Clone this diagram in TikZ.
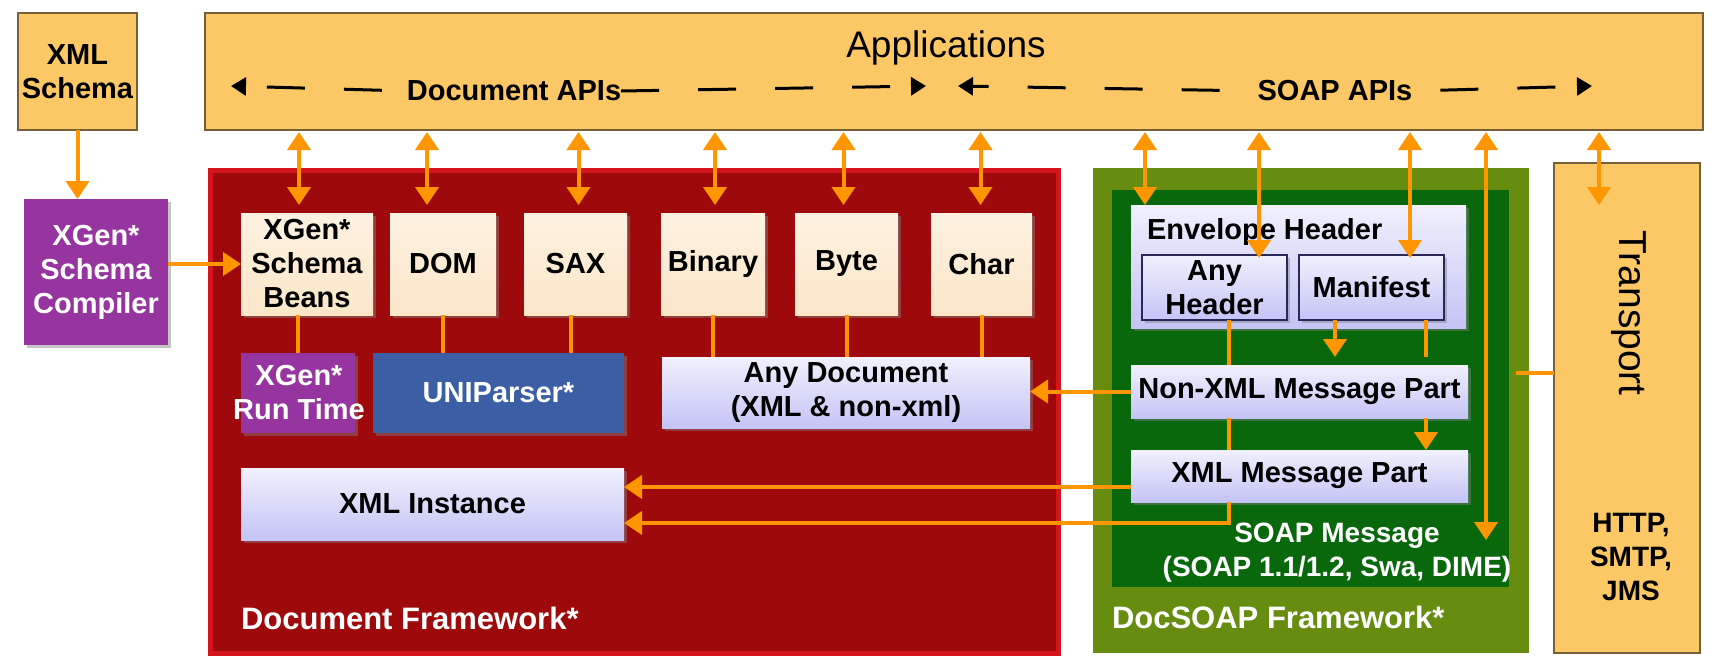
\documentclass[tikz,border=0pt]{standalone}
\usepackage{fontspec}
\setmainfont{Liberation Sans}
\usepackage{tikz}
\usetikzlibrary{arrows.meta}
\usetikzlibrary{shadows}
\definecolor{appfill}{RGB}{252,200,102}
\definecolor{appedge}{RGB}{118,96,56}
\definecolor{docred}{RGB}{158,10,12}
\definecolor{docedge}{RGB}{212,22,28}
\definecolor{soapolive}{RGB}{102,140,16}
\definecolor{soapgreen}{RGB}{10,104,12}
\definecolor{xgenpurple}{RGB}{150,52,160}
\definecolor{parserblue}{RGB}{60,94,164}
\definecolor{beancream}{RGB}{251,230,200}
\definecolor{partlilac}{RGB}{196,196,246}
\definecolor{partedge}{RGB}{40,40,90}
\definecolor{flow}{RGB}{255,150,0}
\newcommand{\boxfont}{\fontsize{29}{34}\selectfont\bfseries}
\newcommand{\framefont}{\fontsize{31}{36}\selectfont\bfseries}
\tikzset{flowtip/.tip={Triangle[width=23pt, length=18pt]},
         apitip/.tip={Triangle[width=18pt, length=15pt]}}
\tikzstyle{block}=[inner sep=0, outer sep=0, align=center]
\tikzstyle{appbox}=[block, fill=appfill, draw=appedge, line width=1.5pt]
\tikzstyle{shadowed}=[drop shadow={shadow xshift=3pt, shadow yshift=-3pt, opacity=0.45}]
\tikzstyle{creambox}=[block, shadowed, top color=beancream!55, bottom color=beancream, font=\boxfont]
\tikzstyle{lilacbox}=[block, shadowed, top color=partlilac!25, bottom color=partlilac, font=\boxfont]
\tikzstyle{purplebox}=[block, shadowed, fill=xgenpurple, text=white, font=\boxfont]
\tikzstyle{bluebox}=[block, shadowed, fill=parserblue, text=white, font=\boxfont]
\tikzstyle{flowline}=[draw=flow, line width=4pt]
\tikzstyle{flowarrow}=[flowline, -flowtip]
\tikzstyle{flowboth}=[flowline, flowtip-flowtip]
\tikzstyle{apiline}=[draw=black, line width=3pt, dash pattern=on 38pt off 39pt, -apitip]
\tikzstyle{stack}=[x=1pt, y=-1pt,
                   % white text on the dark frames
                   frametext/.style={inner sep=0, outer sep=0, text=white, font=\framefont, anchor=west}]

\begin{document}
\begin{tikzpicture}[stack]
    \useasboundingbox[fill=white] (0, 0) rectangle (1717, 656);
    % frames
    \node[block, fill=docred, draw=docedge, line width=5pt, minimum width=848pt, minimum height=483pt] (docfw) at (634, 411.5) {};
    \node[block, fill=soapolive, minimum width=436pt, minimum height=485pt] (soapfw) at (1311, 410.5) {};
    \node[block, fill=soapgreen, minimum width=397pt, minimum height=397pt] (soapmsg) at (1310.5, 388.5) {};
    \node[appbox, minimum width=146pt, minimum height=490pt] (transport) at (1627, 408) {};
    \node[appbox, minimum width=1498pt, minimum height=117pt] (apps) at (954, 71.5) {};
    \node[appbox, minimum width=119pt, minimum height=117pt, font=\boxfont] (xmlschema) at (77.5, 71.5) {XML\\Schema};
    \node[purplebox, minimum width=144pt, minimum height=146pt] (compiler) at (96, 272) {XGen*\\Schema\\Compiler};
    \node[block, font=\fontsize{37}{44}\selectfont] (appstext) at (946, 48) {Applications};
    \node[block, font=\fontsize{39}{46}\selectfont, rotate=-90] (trtext) at (1629, 313) {Transport};
    \node[block, font=\fontsize{28}{34}\selectfont\bfseries] (proto) at (1631, 557) {HTTP,\\SMTP,\\JMS};

    % document side
    \node[creambox, minimum width=132pt, minimum height=102pt] (beans) at (307, 264) {XGen*\\Schema\\Beans};
    \node[creambox, minimum width=106pt, minimum height=102pt] (dom) at (443, 264) {DOM};
    \node[creambox, minimum width=103pt, minimum height=102pt] (sax) at (575.5, 264) {SAX};
    \node[creambox, minimum width=104pt, minimum height=102pt] (binary) at (713, 264) {Binary};
    \node[creambox, minimum width=103pt, minimum height=102pt] (byte) at (846.5, 264) {Byte};
    \node[creambox, minimum width=101pt, minimum height=102pt] (char) at (981.5, 264) {Char};
    \node[purplebox, minimum width=114pt, minimum height=80pt] (runtime) at (298, 393) {};
    \node[block, text=white, font=\boxfont] (runtimetext) at (299, 393) {XGen*\\Run Time};
    \node[bluebox, minimum width=251pt, minimum height=80pt] (uniparser) at (498.5, 393) {UNIParser*};
    \node[lilacbox, minimum width=368pt, minimum height=71pt] (anydoc) at (846, 392.5) {Any Document\\(XML \& non-xml)};
    \node[lilacbox, minimum width=383pt, minimum height=72pt] (xmlinst) at (432.5, 504) {XML Instance};
    \node[frametext] (docfwtext) at (241, 618) {Document Framework*};

    % soap side
    \node[lilacbox, minimum width=335pt, minimum height=123pt] (envhdr) at (1298.5, 266.5) {};
    \node[block, font=\boxfont, anchor=west] (envtext) at (1147, 232) {Envelope Header};
    \node[lilacbox, draw=partedge, line width=1.5pt, minimum width=145pt, minimum height=65pt] (anyhdr) at (1214.5, 287.5) {Any\\Header};
    \node[lilacbox, draw=partedge, line width=1.5pt, minimum width=145pt, minimum height=65pt] (manifest) at (1371.5, 287.5) {Manifest};
    \node[lilacbox, minimum width=337pt, minimum height=53pt] (nonxml) at (1299.5, 391.5) {Non-XML Message Part};
    \node[lilacbox, minimum width=337pt, minimum height=52pt] (xmlmsg) at (1299.5, 476) {XML Message Part};
    \node[block, text=white, font=\fontsize{28}{34}\selectfont\bfseries] (soaptext) at (1337, 553) {SOAP Message\\(SOAP 1.1/1.2, Swa, DIME)};
    \node[frametext] (soapfwtext) at (1112, 617) {DocSOAP Framework*};

    % API spans in the top bar
    \coordinate (docL) at (231, 86);
    \coordinate (docR) at (926, 86);
    \coordinate (soapL) at (958, 86);
    \coordinate (soapR) at (1592, 86);
    \node[block, font=\boxfont] (docapi) at (514, 91) {Document APIs};
    \node[block, font=\boxfont] (soapapi) at (1335, 91) {SOAP APIs};
    \draw[apiline, dash phase=52pt] (docapi.west) -- (docL);
    \draw[apiline] (docapi.east) -- (docR);
    \draw[apiline, dash phase=39pt] (soapapi.west) -- (soapL);
    \draw[apiline, dash phase=49pt] (soapapi.east) -- (soapR);

    % connectors
    \draw[flowarrow] (xmlschema.south) -- (xmlschema.south |- compiler.north);
    \draw[flowarrow] (beans.west -| compiler.east) -- (beans.west);
    \foreach \name/\shift in {beans/-8, dom/-16, sax/3, binary/2, byte/-3, char/-1} {
        \coordinate (tap) at ([xshift=\shift pt]\name.north);
        \draw[flowboth, shorten <=2pt, shorten >=8pt] (tap |- apps.south) -- (tap);
    }
    \draw[flowline] (runtime.north |- beans.south) -- (runtime.north);
    \draw[flowline] (dom.south) -- (dom.south |- uniparser.north);
    \draw[flowline] ([xshift=-5pt]sax.south) -- ([xshift=-5pt]sax.south |- uniparser.north);
    \foreach \name in {binary, byte, char}
        \draw[flowline] (\name.south) -- (\name.south |- anydoc.north);

    \coordinate (envtap) at (1145, 205);
    \coordinate (anytap) at (1259, 258);
    \coordinate (mantap) at (1410, 258);
    \coordinate (soapend) at (1486, 540);
    \coordinate (trtap) at (1599, 205);
    \foreach \tap in {envtap, anytap, mantap, soapend, trtap}
        \draw[flowboth, shorten <=2pt] (\tap |- apps.south) -- (\tap);

    \coordinate (spine) at (1229, 523);
    \coordinate (mleft) at (1335, 0);
    \coordinate (mright) at (1426, 0);
    \coordinate (stub) at (1516, 373);
    \draw[flowline] (spine |- anyhdr.south) -- (spine |- nonxml.north);
    \draw[flowline] (spine |- nonxml.south) -- (spine |- xmlmsg.north);
    \draw[flowarrow] (spine |- xmlmsg.south) -- (spine) -- (spine -| xmlinst.east);
    \draw[flowarrow, shorten >=8pt] (mleft |- manifest.south) -- (mleft |- nonxml.north);
    \draw[flowline, shorten >=8pt] (mright |- manifest.south) -- (mright |- nonxml.north);
    \draw[flowarrow] (mright |- nonxml.south) -- (mright |- xmlmsg.north);
    \draw[flowarrow] (nonxml.west) -- (nonxml.west -| anydoc.east);
    \coordinate (lowtap) at ([yshift=-11pt]xmlmsg.west);
    \draw[flowarrow] (lowtap) -- (lowtap -| xmlinst.east);
    \draw[flowline] (stub) -- (stub -| transport.west);
\end{tikzpicture}
\end{document}
